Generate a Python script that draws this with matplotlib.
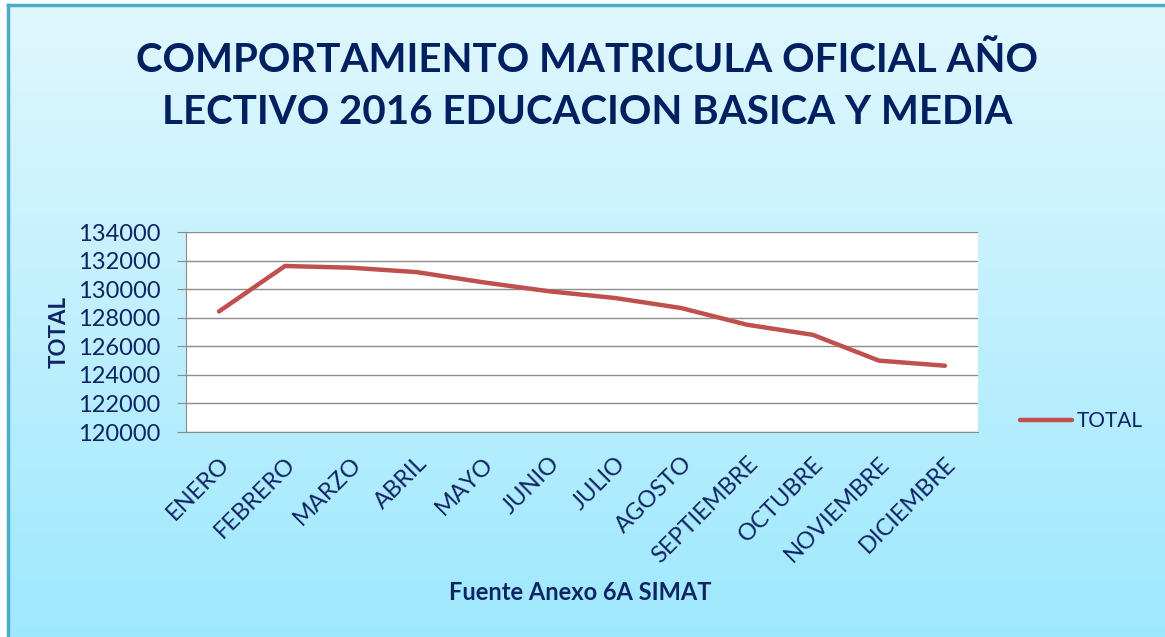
import matplotlib.pyplot as plt
import numpy as np
from matplotlib.colors import LinearSegmentedColormap

meses = ['ENERO', 'FEBRERO', 'MARZO', 'ABRIL', 'MAYO', 'JUNIO', 'JULIO',
         'AGOSTO', 'SEPTIEMBRE', 'OCTUBRE', 'NOVIEMBRE', 'DICIEMBRE']
total = [128440, 131620, 131500, 131190, 130480, 129850, 129380,
         128680, 127510, 126800, 124995, 124640]
y_ticks = [120000, 122000, 124000, 126000, 128000, 130000, 132000, 134000]

navy = '#0F2463'
plt.rcParams['font.family'] = ['Lato', 'DejaVu Sans']

W, H = 1165, 637
fig = plt.figure(figsize=(W / 100, H / 100), dpi=100)
fig.patch.set_facecolor('white')

# gradient background with border on top/left
bg = fig.add_axes([8 / W, 0, 1 - 8 / W, 1 - 5 / H], zorder=-10)
grad = np.linspace(0, 1, 256).reshape(-1, 1)
cmap = LinearSegmentedColormap.from_list('bg', ['#E1F7FD', '#9EE8FE'])
bg.imshow(grad, aspect='auto', cmap=cmap, extent=[0, 1, 0, 1], origin='upper')
bg.set_xlim(0, 1)
bg.set_ylim(0, 1)
bg.set_xticks([])
bg.set_yticks([])
for s in ['right', 'bottom']:
    bg.spines[s].set_visible(False)
for s in ['top', 'left']:
    bg.spines[s].set_color('#4BACC6')
    bg.spines[s].set_linewidth(2.5)

ax = fig.add_axes([186 / W, 1 - 432 / H, 792 / W, 200 / H])
ax.set_facecolor('white')
x = np.arange(len(meses))
ax.plot(x, total, color='#C0504D', lw=3.2, solid_capstyle='round', label='TOTAL')

ax.set_xlim(-0.5, len(meses) - 0.5)
ax.set_ylim(120000, 134000)
ax.set_yticks(y_ticks)
ax.set_yticklabels([str(v) for v in y_ticks], fontsize=17, color=navy)
ax.yaxis.grid(True, color='#8C8C8C', lw=1)
ax.set_axisbelow(True)
ax.tick_params(axis='y', length=6.5, color='#8C8C8C', pad=12)
ax.tick_params(axis='x', length=0, pad=15)
ax.set_xticks(x)
ax.set_xticklabels(meses, rotation=45, ha='right', rotation_mode='anchor',
                   fontsize=17, color=navy)
for s in ['top', 'right']:
    ax.spines[s].set_visible(False)
ax.spines['left'].set_color('#8C8C8C')
ax.spines['bottom'].set_color('#8C8C8C')

ax.set_ylabel('TOTAL', fontsize=16, fontweight='bold', color=navy)
ax.yaxis.set_label_coords(-0.147, 0.5)

fig.text(580 / W, 1 - 593 / H, 'Fuente Anexo 6A SIMAT', ha='center', va='center',
         fontsize=17, fontweight='bold', color=navy)
fig.text(587 / W, 1 - 86 / H, 'COMPORTAMIENTO MATRICULA OFICIAL AÑO\nLECTIVO 2016 EDUCACION BASICA Y MEDIA',
         ha='center', va='center', fontsize=29, fontweight='bold', color='#002060',
         linespacing=1.5)

leg = fig.legend(loc='center left', bbox_to_anchor=(1001 / W, 1 - 421 / H),
                 frameon=False, fontsize=15, handlelength=2.5, handletextpad=0.25,
                 labelcolor=navy)

plt.savefig('out.png', dpi=100)
